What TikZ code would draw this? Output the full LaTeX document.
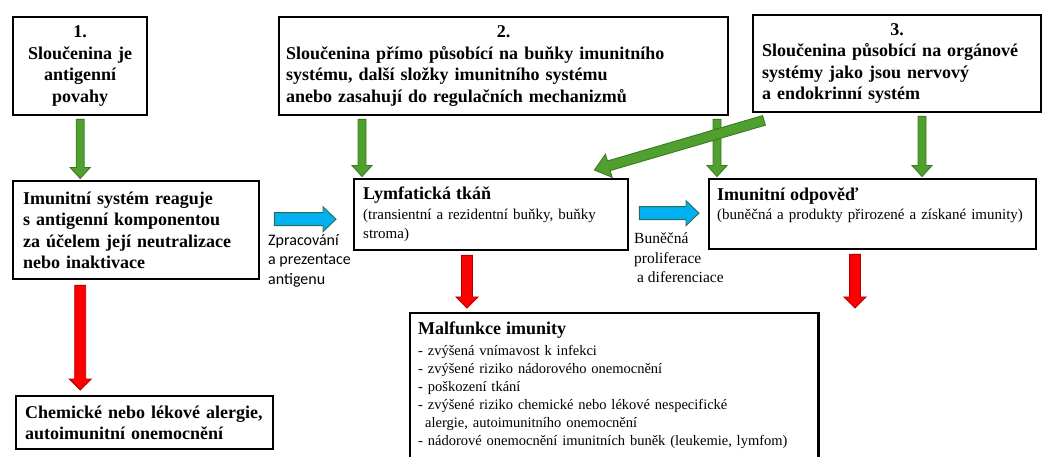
\documentclass[tikz,border=0pt]{standalone}
\usepackage{fontspec}
\setmainfont{Liberation Serif}[BoldFont={Liberation Serif Bold}]
\newfontfamily\tnr{Liberation Serif}[BoldFont={Liberation Serif Bold}]
\newfontfamily\calibrifont{Carlito}
\usetikzlibrary{calc}
\definecolor{grfill}{HTML}{4FA02E}
\definecolor{grdraw}{HTML}{3C7A22}
\definecolor{blfill}{HTML}{00B0F0}
\definecolor{bldraw}{HTML}{2E6B55}
\definecolor{rdfill}{HTML}{FF0000}
\definecolor{rddraw}{HTML}{B00000}
% block arrow: style, start, end, shaft half width, head half width, head length
\newcommand\blockarrow[6]{%
  \coordinate (ba-n) at ($(#3)!#6!(#2)$);
  \draw[#1] ($(#2)!#4!90:(#3)$) -- ($(ba-n)!#4!-90:(#2)$) -- ($(ba-n)!#5!-90:(#2)$)
    -- (#3) -- ($(ba-n)!#5!90:(#2)$) -- ($(ba-n)!#4!90:(#2)$) -- ($(#2)!#4!-90:(#3)$) -- cycle;}
\tikzset{
  box/.style={draw=black, line width=2.4pt, anchor=north west, inner ysep=0pt},
  boldtext/.style={font=\tnr\fontsize{18}{21.5}\selectfont\bfseries},
  regtext/.style={font=\tnr\fontsize{15}{19}\selectfont},
  greenarr/.style={fill=grfill, draw=grdraw, line width=0.9pt},
  bluearr/.style={fill=blfill, draw=bldraw, line width=0.9pt},
  redarr/.style={fill=rdfill, draw=rddraw, line width=0.9pt},
}
\begin{document}
\begin{tikzpicture}[x=1pt,y=-1pt]
\clip (0,0) rectangle (1045,457);
\fill[white] (0,0) rectangle (1045,457);

\node[box, boldtext, align=center, inner xsep=8pt, text width=118pt, minimum height=98pt] (b1) at (12,16)
  {1.\\Sloučenina je\\antigenní\\povahy};
\node[box, boldtext, align=left, inner xsep=7pt, text width=435pt, minimum height=98pt] (b2) at (278,16)
  {\makebox[\linewidth]{2.}\\Sloučenina přímo působící na buňky imunitního\\systému, další složky imunitního systému\\anebo zasahují do regulačních mechanizmů};
\node[box, boldtext, align=left, inner xsep=9pt, text width=270pt, minimum height=97pt] (b3) at (752,14)
  {\makebox[\linewidth]{3.}\\Sloučenina působící na orgánové\\systémy jako jsou nervový\\a endokrinní systém};
\node[box, boldtext, align=left, inner xsep=10pt, text width=226pt, minimum height=98pt] (b4) at (12,180)
  {Imunitní systém reaguje\\s antigenní komponentou\\za účelem její neutralizace\\nebo inaktivace};
\node[box, regtext, align=left, inner xsep=9pt, text width=256pt, minimum height=71pt] (lym) at (353,178)
  {{\fontsize{18}{21}\selectfont\bfseries Lymfatická tkáň}\\[1pt](transientní a rezidentní buňky, buňky\\stroma)};
\node[box, regtext, align=left, inner xsep=8pt, text width=311pt, minimum height=70pt, text depth=40pt] (odp) at (708,178)
  {{\fontsize{18}{21}\selectfont\bfseries Imunitní odpověď}\\[0pt](buněčná a produkty přirozené a získané imunity)};
\node[box, boldtext, align=left, inner xsep=9pt, text width=239pt, minimum height=53pt] (chem) at (15,395)
  {Chemické nebo lékové alergie,\\autoimunitní onemocnění};
\node[anchor=north west, font=\tnr\fontsize{14.5}{18}\selectfont, align=left, inner xsep=8pt, inner ysep=9pt, text width=392pt] (malf) at (410,313)
  {{\fontsize{18}{21}\selectfont\bfseries Malfunkce imunity}\\[3pt]
   - zvýšená vnímavost k infekci\\
   - zvýšené riziko nádorového onemocnění\\
   - poškození tkání\\
   - zvýšené riziko chemické nebo lékové nespecifické\\
   \hspace*{7pt}alergie, autoimunitního onemocnění\\
   - nádorové onemocnění imunitních buněk (leukemie, lymfom)};
\draw[line width=2.4pt] (malf.north west) rectangle ($(malf.south east)+(0,20)$);

\node[anchor=north west, inner sep=0pt, align=left, font=\calibrifont\fontsize{16}{19.5}\selectfont] (zpr) at (268,234)
  {Zpracování\\a prezentace\\antigenu};
\node[anchor=north west, inner sep=0pt, align=left, font=\tnr\fontsize{15.5}{19.5}\selectfont] (bun) at (634,233)
  {Buněčná\\proliferace\\\hspace*{3pt}a diferenciace};

% green arrows
\coordinate (g1s) at ($(b1.south)+(0,3)$);
\coordinate (g1e) at ($(b1.south |- b4.north)+(0,-1.5)$);
\blockarrow{greenarr}{g1s}{g1e}{4pt}{10pt}{11pt}
\coordinate (g2e) at ($(lym.north west)+(9,-1.5)$);
\coordinate (g2s) at ($(g2e |- b2.south)+(0,3)$);
\blockarrow{greenarr}{g2s}{g2e}{4pt}{10pt}{11pt}
\coordinate (g3e) at ($(odp.north west)+(9,-1.5)$);
\coordinate (g3s) at ($(g3e |- b2.south)+(0,3)$);
\blockarrow{greenarr}{g3s}{g3e}{4pt}{10pt}{11pt}
\coordinate (g4s) at ($(b3.south west)+(170,3)$);
\coordinate (g4e) at ($(g4s |- odp.north)+(0,-1.5)$);
\blockarrow{greenarr}{g4s}{g4e}{4pt}{10pt}{11pt}
\coordinate (g5s) at ($(b3.south west)+(12,7)$);
\coordinate (g5e) at ($(lym.north east)+(-35,-8)$);
\blockarrow{greenarr}{g5s}{g5e}{5pt}{12pt}{15pt}

% blue arrows
\coordinate (c1s) at ($(b4.east)+(14,-11)$);
\coordinate (c1e) at ($(c1s -| lym.west)+(-17,0)$);
\blockarrow{bluearr}{c1s}{c1e}{6.5pt}{12.5pt}{13pt}
\coordinate (c2s) at ($(lym.east)+(10,-1.5)$);
\coordinate (c2e) at ($(c2s -| odp.west)+(-9,0)$);
\blockarrow{bluearr}{c2s}{c2e}{6.5pt}{12.5pt}{13pt}

% red arrows
\coordinate (r1s) at ($(b1.south |- b4.south)+(0,5)$);
\coordinate (r1e) at ($(r1s |- chem.north)+(0,-5)$);
\blockarrow{redarr}{r1s}{r1e}{5.5pt}{11pt}{11pt}
\coordinate (r2s) at ($(lym.south west)+(114,4)$);
\coordinate (r2e) at ($(r2s |- malf.north)+(0,-5)$);
\blockarrow{redarr}{r2s}{r2e}{5.5pt}{11pt}{11pt}
\coordinate (r3s) at ($(odp.south west)+(147,4)$);
\coordinate (r3e) at ($(r3s |- malf.north)+(0,-5)$);
\blockarrow{redarr}{r3s}{r3e}{5.5pt}{11pt}{11pt}
\end{tikzpicture}
\end{document}
